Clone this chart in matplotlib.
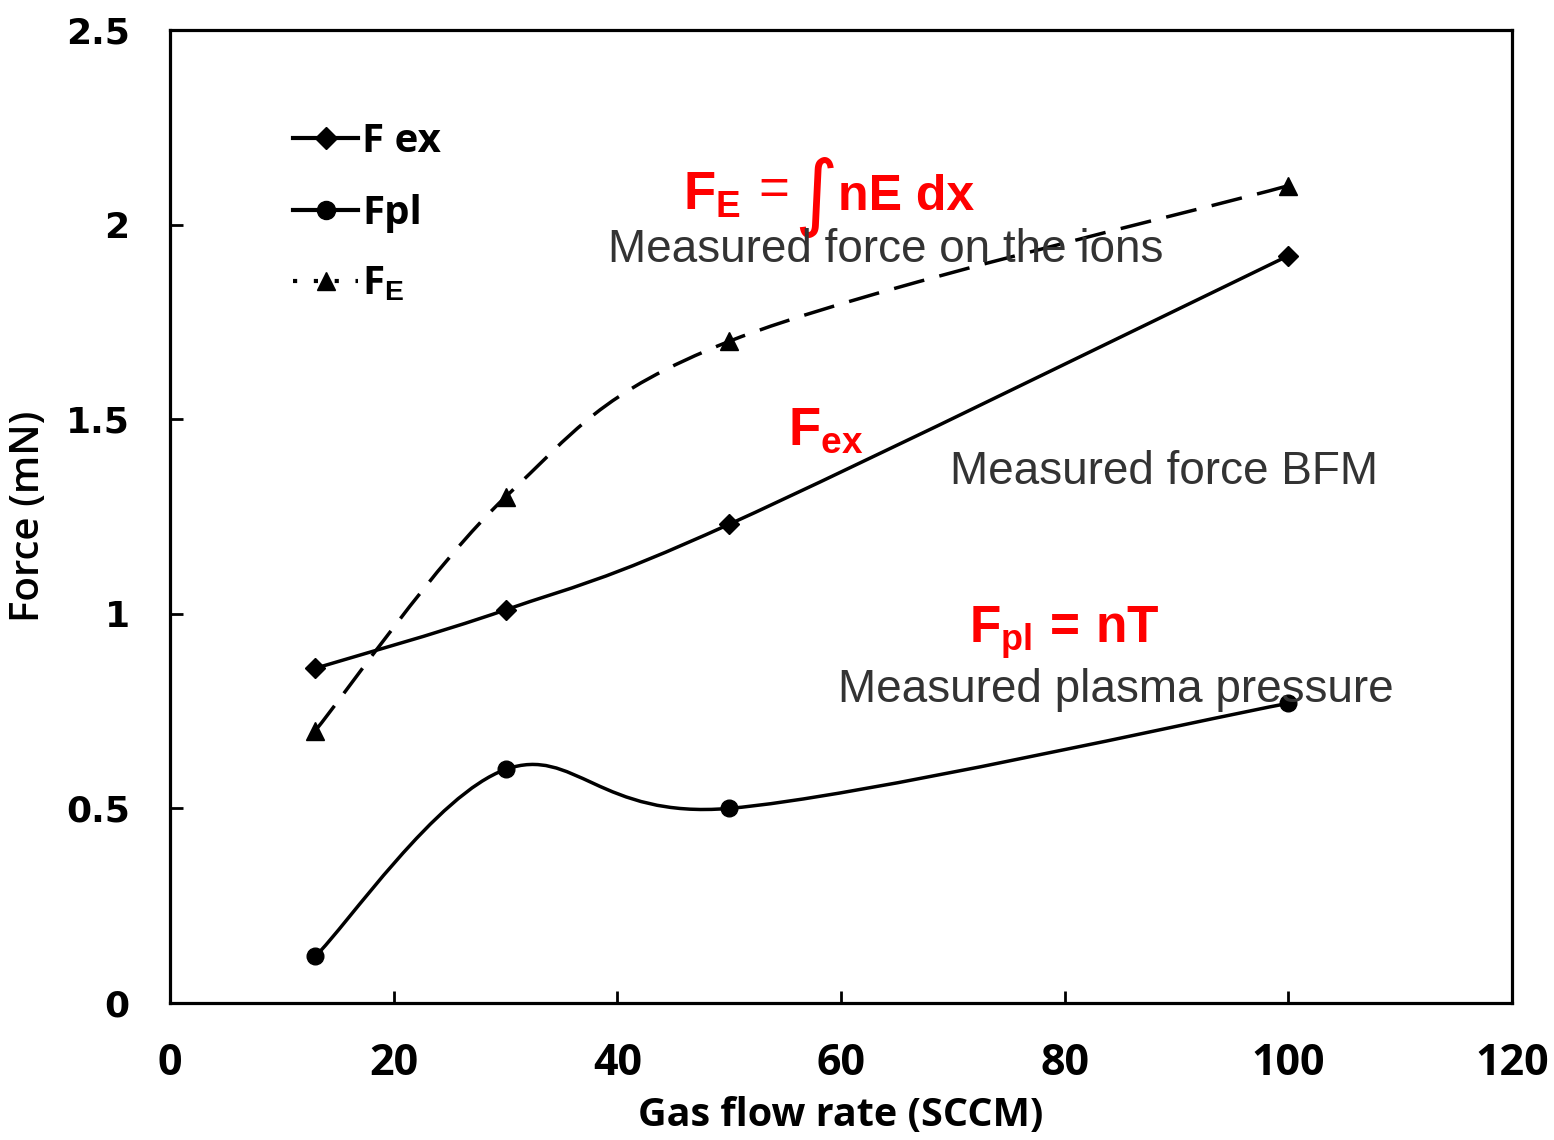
import numpy as np
import matplotlib
matplotlib.use("Agg")
from matplotlib import pyplot as plt
from matplotlib.path import Path
from matplotlib.patches import PathPatch
from matplotlib.lines import Line2D

# data
flow = [13, 30, 50, 100]
f_ex = [0.86, 1.01, 1.23, 1.92]
f_pl = [0.12, 0.60, 0.50, 0.77]
f_e = [0.70, 1.30, 1.70, 2.10]

xticks = [0, 20, 40, 60, 80, 100, 120]
yticks = [0, 0.5, 1, 1.5, 2, 2.5]
ytick_labels = ["0", "0.5", "1", "1.5", "2", "2.5"]

plt.rcParams['mathtext.fontset'] = 'custom'
plt.rcParams['mathtext.rm'] = 'Liberation Sans'
plt.rcParams['mathtext.bf'] = 'Liberation Sans:bold'
plt.rcParams['mathtext.it'] = 'Liberation Sans:italic'


def smooth_path(xs, ys):
    # excel-style smoothed line: cubic bezier through the points
    pts = np.column_stack([xs, ys]).astype(float)
    verts = [pts[0]]
    codes = [Path.MOVETO]
    n = len(pts)
    for i in range(n - 1):
        p0 = pts[max(i - 1, 0)]
        p1 = pts[i]
        p2 = pts[i + 1]
        p3 = pts[min(i + 2, n - 1)]
        c1 = p1 + (p2 - p0) / 6.0
        c2 = p2 - (p3 - p1) / 6.0
        verts += [c1, c2, p2]
        codes += [Path.CURVE4] * 3
    return Path(verts, codes)


fig = plt.figure(figsize=(15.54, 11.40), dpi=100)
ax = fig.add_axes([0.1094, 0.1202, 0.8636, 0.8535])

lw = 2.5
ax.add_patch(PathPatch(smooth_path(flow, f_ex), fill=False, lw=lw, color="black"))
ax.add_patch(PathPatch(smooth_path(flow, f_pl), fill=False, lw=lw, color="black"))
ax.add_patch(PathPatch(smooth_path(flow, f_e), fill=False, lw=lw, color="black",
                       linestyle=(0, (9, 4.5))))

ax.plot(flow, f_ex, linestyle="none", marker="D", ms=10, color="black")
ax.plot(flow, f_pl, linestyle="none", marker="o", ms=12, color="black")
ax.plot(flow, f_e, linestyle="none", marker="^", ms=13, color="black")

ax.set_xlim(0, 120)
ax.set_ylim(0, 2.5)
ax.set_xticks(xticks)
ax.set_xticklabels([str(v) for v in xticks], fontsize=31, fontweight="bold",
                   family=["Liberation Sans Narrow", "Open Sans"])
ax.set_yticks(yticks)
ax.set_yticklabels(ytick_labels, fontsize=26, fontweight="bold", family="DejaVu Sans")
ax.tick_params(direction="in", length=9, width=2)
ax.tick_params(axis="x", pad=28)
ax.tick_params(axis="y", pad=29)
for s in ax.spines.values():
    s.set_linewidth(2.3)

ax.set_xlabel("Gas flow rate (SCCM)", fontsize=28.5, fontweight="bold",
              family=["Liberation Sans Narrow", "Open Sans"], labelpad=8)
ax.set_ylabel("Force (mN)", fontsize=29, fontweight="semibold", family="Open Sans",
              labelpad=12)

handles = [
    Line2D([], [], color="black", lw=3, marker="D", ms=11),
    Line2D([], [], color="black", lw=3, marker="o", ms=13),
    Line2D([], [], color="black", lw=3, marker="^", ms=13, linestyle=(0, (1, 4))),
]
ax.legend(handles, ["F ex", "Fpl", "F$_{\\mathbf{E}}$"], loc="upper left",
          bbox_to_anchor=(0.092, 0.905), frameon=False, borderpad=0, borderaxespad=0,
          handlelength=1.6, handletextpad=0.1, labelspacing=0.8,
          prop={"family": "Open Sans", "weight": "bold", "size": 29})

red = "#ff0000"
dark = "#333333"
ax.text(45.9, 2.038, r"$\mathbf{F}_{\mathbf{E}}$", color=red,
        fontsize=38, ha="left", va="baseline")
ax.text(52.6, 2.05, "=", color=red, fontsize=38, family="Liberation Sans",
        ha="left", va="baseline")
ax.text(57.8, 2.07, "\u222b", color=red, fontsize=60, family="DejaVu Sans",
        ha="center", va="center")
ax.text(59.7, 2.038, "nE dx", color=red, fontsize=36, fontweight="bold",
        family="Liberation Sans", ha="left", va="baseline")
ax.text(64.0, 1.935, "Measured force on the ions", color=dark, fontsize=33,
        family="Liberation Sans", ha="center", va="center")
ax.text(55.3, 1.434, r"$\mathbf{F}_{\mathbf{ex}}$", color=red, fontsize=38,
        ha="left", va="baseline")
ax.text(69.7, 1.364, "Measured force BFM", color=dark, fontsize=33,
        family="Liberation Sans", ha="left", va="center")
ax.text(71.4, 0.925, r"$\mathbf{F}_{\mathbf{pl}}\,\mathbf{=\,nT}$", color=red, fontsize=37,
        ha="left", va="baseline")
ax.text(59.7, 0.804, "Measured plasma pressure", color=dark, fontsize=33,
        family="Liberation Sans", ha="left", va="center")

fig.savefig("out.png", dpi=100)
